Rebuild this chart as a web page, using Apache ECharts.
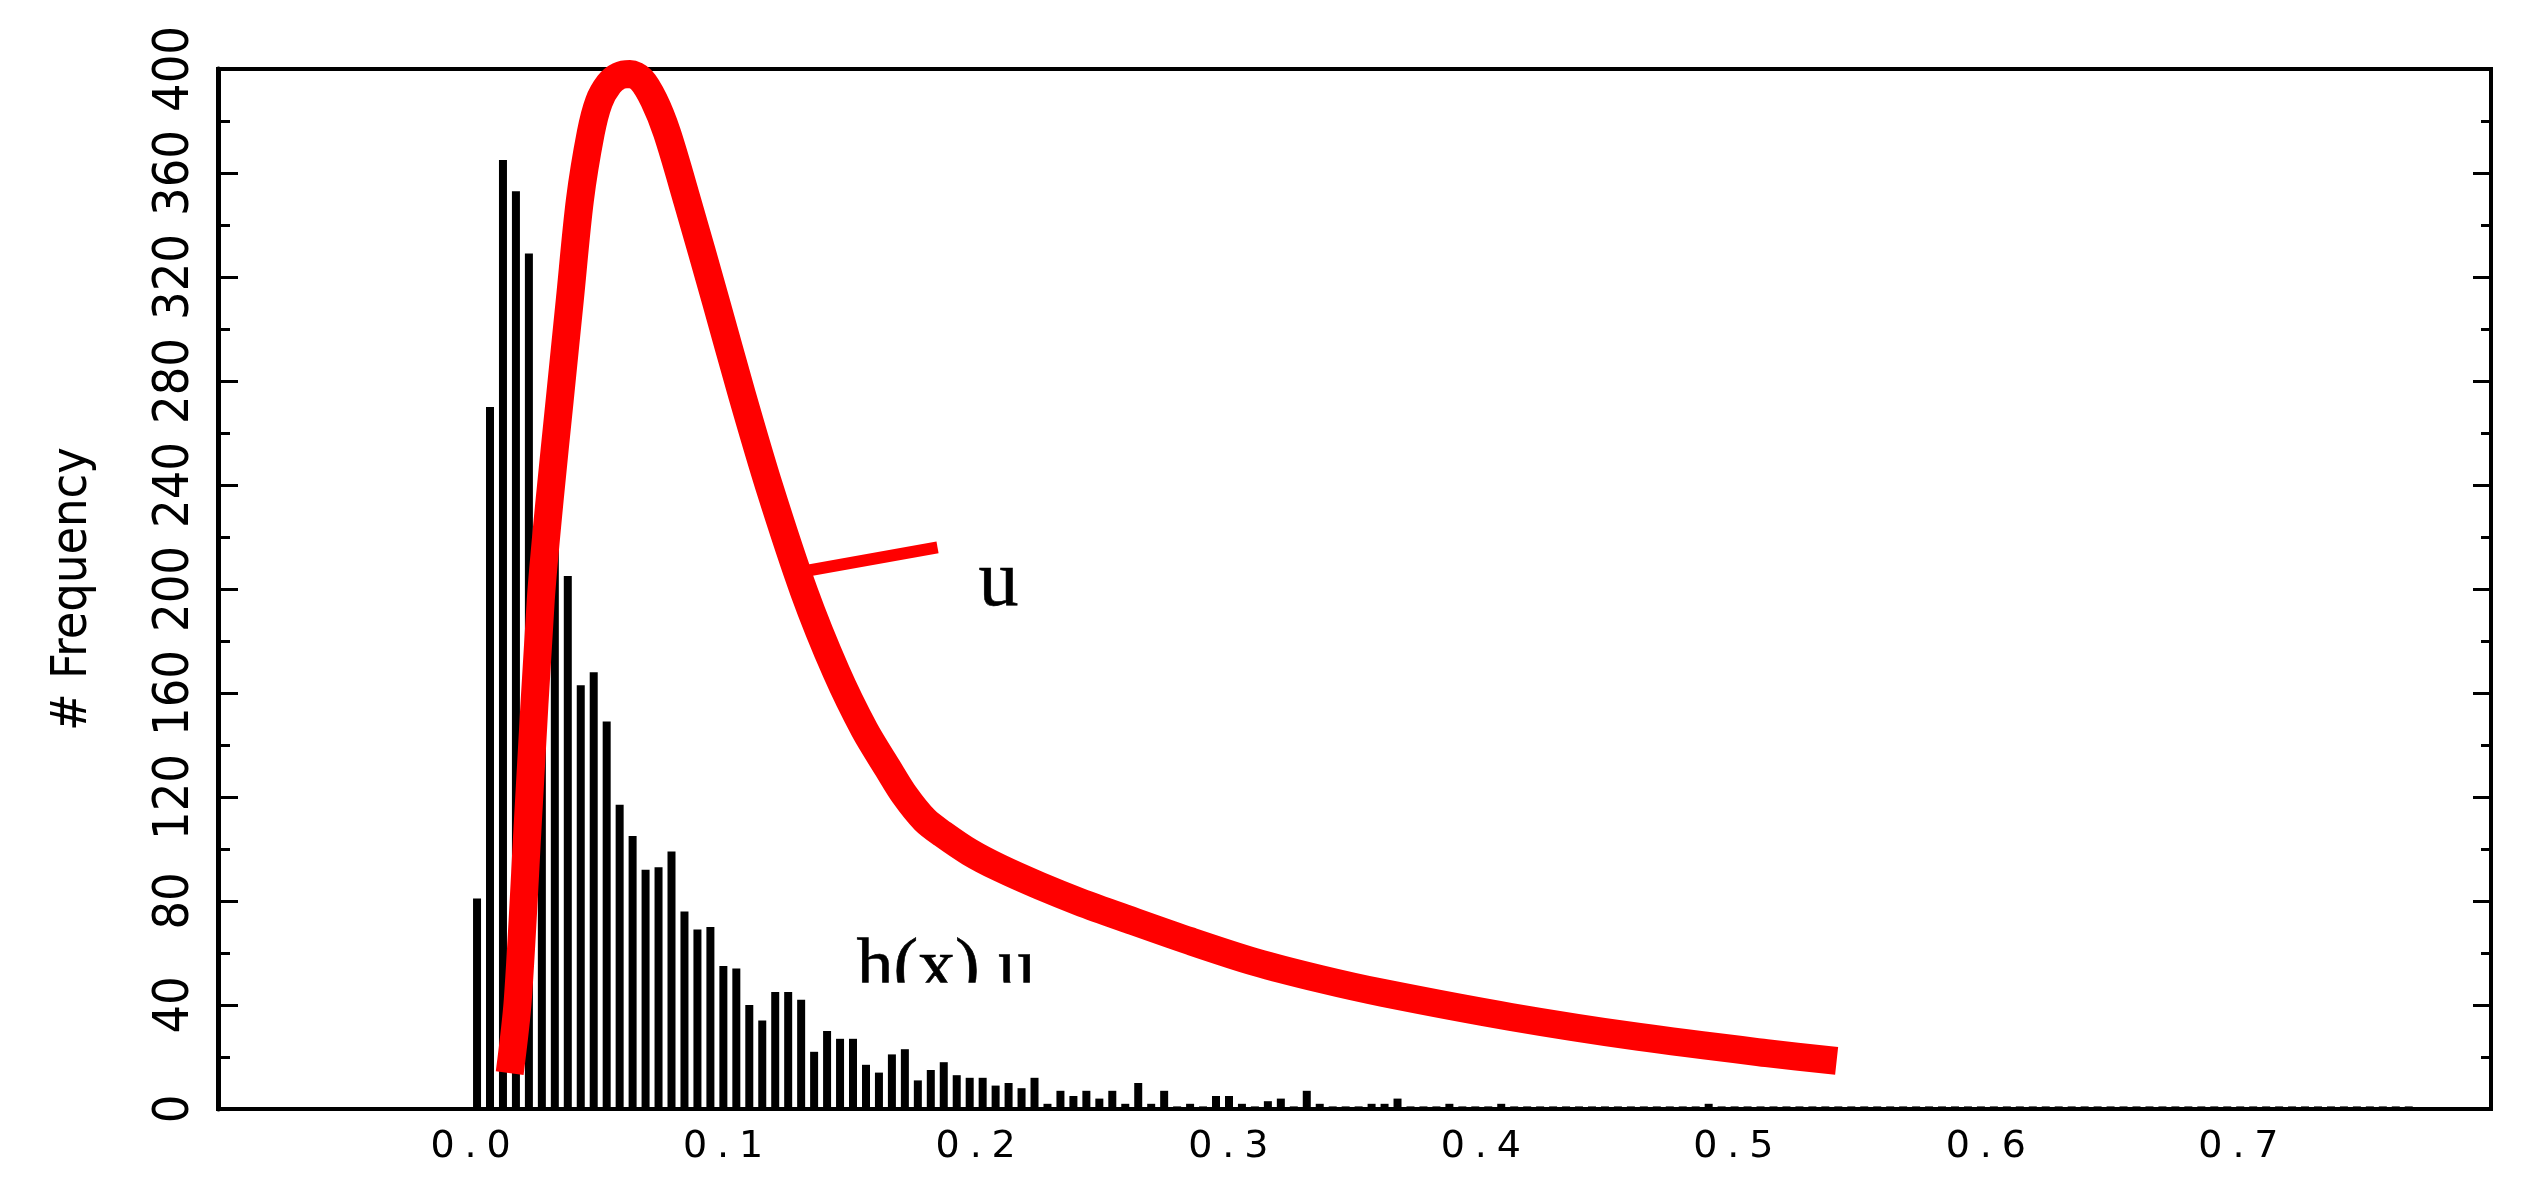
<!DOCTYPE html>
<html>
<head>
<meta charset="utf-8">
<title>Frequency histogram</title>
<script src="https://cdn.jsdelivr.net/npm/echarts@6/dist/echarts.min.js"></script>
<style>
  html, body { margin: 0; padding: 0; background: #fff; }
  #main { width: 2538px; height: 1194px; }
</style>
</head>
<body>
<div id="main"></div>
<script>
// histogram: 150 bins over [0, 0.77]
var binStart = 0;
var binWidth = 0.77 / 150;
var counts = [
  81, 270, 365, 353, 329, 240, 232, 205, 163, 168,
  149, 117, 105, 92, 93, 99, 76, 69, 70, 55,
  54, 40, 34, 45, 45, 42, 22, 30, 27, 27,
  17, 14, 21, 23, 11, 15, 18, 13, 12, 12,
  9, 10, 8, 12, 2, 7, 5, 7, 4, 7,
  2, 10, 2, 7, 1, 2, 1, 5, 5, 2,
  1, 3, 4, 1, 7, 2, 1, 1, 1, 2,
  2, 4, 1, 1, 1, 2, 1, 1, 1, 2,
  1, 1, 1, 1, 1, 1, 1, 1, 1, 1,
  1, 1, 1, 1, 1, 2, 1, 1, 1, 1,
  1, 1, 1, 1, 1, 1, 1, 1, 1, 1,
  1, 1, 1, 1, 1, 1, 1, 1, 1, 1,
  1, 1, 1, 1, 1, 1, 1, 1, 1, 1,
  1, 1, 1, 1, 1, 1, 1, 1, 1, 1,
  1, 1, 1, 1, 1, 1, 1, 1, 1, 1
];

// red curve u
var curveX = [0.0155, 0.0187, 0.023, 0.0278, 0.0313, 0.0353, 0.0393, 0.0433, 0.0476,
              0.0508, 0.0548, 0.0587, 0.0631, 0.0675, 0.0726,
              0.0778, 0.0857, 0.0972, 0.1075, 0.1183, 0.1321, 0.1448, 0.156, 0.1651,
              0.1718, 0.1798, 0.1869, 0.1976, 0.2095, 0.2254, 0.2413, 0.2599, 0.2849,
              0.3107, 0.3365, 0.3615, 0.4119, 0.4627, 0.5131, 0.5409];
var curveY = [13.8, 41.9, 115.8, 195.8, 234.2, 272.7, 311.2, 349.6, 375.4,
              387.3, 394.2, 397.3, 398.1, 396, 388,
              375.4, 349.6, 310.4, 274.6, 239.2, 198.8, 168.1, 145.8, 131.2,
              120.8, 111.2, 105.8, 98.8, 92.7, 85.8, 79.6, 73.1, 64.6,
              56.5, 50, 44.6, 35.4, 27.7, 21.5, 18.5];

// pointer from the curve to the "u" label
var pointerX = [0.1329, 0.1849];
var pointerY = [207, 216];

// text annotations (x, y = anchor in data units)
var labelU = { text: 'u', x: 0.209, y: 202 };
var labelH = { text: 'h(x) u', x: 0.1528, y: 53.5 };
// bottom of "h(x) u" is cut off in the original
var hMask = [[0.149, 48.6], [0.236, 36]];

var xTicks = [0.0, 0.1, 0.2, 0.3, 0.4, 0.5, 0.6, 0.7];

var barData = counts.map(function (c, i) {
  return [binStart + (i + 0.5) * binWidth, c];
});
var curveData = curveX.map(function (x, i) { return [x, curveY[i]]; });
var pointerData = pointerX.map(function (x, i) { return [x, pointerY[i]]; });

var narrowFont = "'Liberation Sans Narrow', 'DejaVu Sans Condensed', sans-serif";
var serifFont = "'Liberation Serif', 'DejaVu Serif', serif";

var chart = echarts.init(document.getElementById('main'));

var yTickStyle = { color: '#000', width: 3 };

var option = {
  animation: false,
  backgroundColor: '#fff',
  grid: {
    left: 218, right: 47, top: 69, bottom: 85,
    show: true, borderColor: '#000', borderWidth: 4
  },
  xAxis: {
    type: 'value',
    min: -0.1,
    max: 0.8,
    interval: 0.1,
    axisLine: { show: true, onZero: false, lineStyle: { color: '#000', width: 4 } },
    axisTick: { show: false },
    splitLine: { show: false },
    axisLabel: {
      margin: 19,
      showMinLabel: false,
      showMaxLabel: false,
      formatter: function (v) {
        var s = null;
        xTicks.forEach(function (t) { if (Math.abs(t - v) < 1e-6) s = t.toFixed(1); });
        if (s === null) return '';
        return '{d|' + s.charAt(0) + '}{p|.}{d|' + s.charAt(2) + '}';
      },
      rich: {
        d: { fontFamily: 'DejaVu Sans', fontSize: 38, color: '#000', width: 28, align: 'center' },
        p: { fontFamily: 'DejaVu Sans', fontSize: 38, color: '#000', width: 28, align: 'center' }
      }
    }
  },
  yAxis: [
    {
      type: 'value',
      position: 'left',
      min: 0,
      max: 400,
      interval: 40,
      name: '# Frequency',
      nameLocation: 'middle',
      nameRotate: 90,
      nameGap: 120,
      nameTextStyle: { fontFamily: narrowFont, fontSize: 50, color: '#000' },
      axisLine: { show: true, onZero: false, lineStyle: { color: '#000', width: 5 } },
      axisTick: { show: true, inside: true, length: 20, lineStyle: yTickStyle },
      minorTick: { show: true, splitNumber: 2, length: 12, lineStyle: yTickStyle },
      splitLine: { show: false },
      minorSplitLine: { show: false },
      axisLabel: {
        rotate: 90,
        margin: 18,
        fontFamily: narrowFont,
        fontSize: 50,
        color: '#000'
      }
    },
    {
      type: 'value',
      position: 'right',
      min: 0,
      max: 400,
      interval: 40,
      axisLine: { show: true, onZero: false, lineStyle: { color: '#000', width: 4 } },
      axisTick: { show: true, inside: true, length: 18, lineStyle: yTickStyle },
      minorTick: { show: true, splitNumber: 2, length: 10, lineStyle: yTickStyle },
      splitLine: { show: false },
      minorSplitLine: { show: false },
      axisLabel: { show: false }
    }
  ],
  series: [
    {
      name: 'counts',
      type: 'bar',
      data: barData,
      barWidth: 8,
      itemStyle: { color: '#000' },
      z: 2
    },
    {
      name: 'labels',
      type: 'scatter',
      symbolSize: 0,
      z: 1,
      itemStyle: { opacity: 1 },
      data: [
        { value: [labelU.x, labelU.y],
          label: { formatter: labelU.text, fontSize: 80, align: 'center' } },
        { value: [labelH.x, labelH.y],
          label: { formatter: labelH.text, fontSize: 74, align: 'left' } }
      ],
      label: {
        show: true,
        position: [0, 0],
        verticalAlign: 'middle',
        fontFamily: serifFont,
        color: '#000',
        textBorderColor: '#000',
        textBorderWidth: 0.6
      },
      silent: true
    },
    {
      name: 'u',
      type: 'line',
      data: curveData,
      showSymbol: false,
      smooth: 0.3,
      lineStyle: { color: '#ff0000', width: 28, cap: 'butt', join: 'round' },
      z: 4
    },
    {
      name: 'pointer',
      type: 'line',
      data: pointerData,
      showSymbol: false,
      lineStyle: { color: '#ff0000', width: 12, cap: 'butt' },
      z: 4
    }
  ]
};

chart.setOption(option);

// white strip over the lower edge of the "h(x) u" text, placed through the axes
var m0 = chart.convertToPixel({ xAxisIndex: 0, yAxisIndex: 0 }, hMask[0]);
var m1 = chart.convertToPixel({ xAxisIndex: 0, yAxisIndex: 0 }, hMask[1]);
chart.setOption({
  graphic: [{
    type: 'rect',
    z: 100,
    silent: true,
    shape: { x: m0[0], y: m0[1], width: m1[0] - m0[0], height: m1[1] - m0[1] },
    style: { fill: '#fff' }
  }]
});
</script>
</body>
</html>
